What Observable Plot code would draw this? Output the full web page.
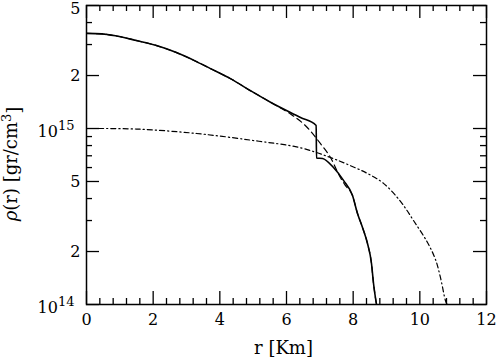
<!DOCTYPE html>
<html><head><meta charset="utf-8">
<script src="https://cdn.jsdelivr.net/npm/d3@7"></script>
<script src="https://cdn.jsdelivr.net/npm/@observablehq/plot@0.6"></script>
<style>body{margin:0;background:#fff} svg{display:block}</style>
</head><body><div id="chart"></div>
<script>
// solid curve
const solidR   = [0, 0.45, 0.9, 1.5, 2.1, 2.7, 3.3, 3.72, 4.32, 4.92, 5.52, 6.42, 6.89, 6.90, 7.08, 7.41, 7.71, 7.98, 8.13, 8.28, 8.43, 8.55, 8.61, 8.70];
const solidRho = [3.47e15, 3.45e15, 3.355e15, 3.16e15, 2.96e15, 2.70e15, 2.40e15, 2.19e15, 1.92e15, 1.64e15, 1.41e15, 1.155e15, 1.04e15, 6.8e14, 6.76e14, 6.0e14, 5.07e14, 4.16e14, 3.29e14, 2.74e14, 2.22e14, 1.71e14, 1.32e14, 1.0e14];
// dashed curve
const dashR   = [0, 0.45, 0.9, 1.5, 2.1, 2.7, 3.3, 3.72, 4.32, 4.92, 5.52, 5.82, 6.12, 6.63, 7.02, 7.32, 7.62, 7.77, 7.98, 8.13, 8.28, 8.43, 8.55, 8.61, 8.70];
const dashRho = [3.47e15, 3.45e15, 3.355e15, 3.16e15, 2.96e15, 2.70e15, 2.40e15, 2.19e15, 1.92e15, 1.64e15, 1.41e15, 1.31e15, 1.21e15, 1.01e15, 8.2e14, 6.84e14, 5.25e14, 4.74e14, 4.16e14, 3.29e14, 2.74e14, 2.22e14, 1.71e14, 1.32e14, 1.0e14];
// dash-dot curve
const dotR   = [0, 1.5, 3.3, 5.0, 6.42, 7.32, 7.9, 8.43, 8.91, 9.42, 9.81, 10.23, 10.47, 10.62, 10.77, 10.82];
const dotRho = [1.0e15, 9.93e14, 9.37e14, 8.55e14, 7.77e14, 6.84e14, 6.17e14, 5.55e14, 4.88e14, 3.85e14, 3.0e14, 2.25e14, 1.80e14, 1.42e14, 1.05e14, 1.0e14];

// ticks
const xMajor = [0, 2, 4, 6, 8, 10, 12];
const xMinor = [0.4, 0.8, 1.2, 1.6, 2.4, 2.8, 3.2, 3.6, 4.4, 4.8, 5.2, 5.6, 6.4, 6.8, 7.2, 7.6, 8.4, 8.8, 9.2, 9.6, 10.4, 10.8, 11.2, 11.6];
const yMajor = [1e14, 2e14, 5e14, 1e15, 2e15, 5e15];
const yMajorLabels = ["10^14", "2", "5", "10^15", "2", "5"];
const yMinor = [3e14, 4e14, 6e14, 7e14, 8e14, 9e14, 3e15, 4e15];

const W = 497, H = 361, mL = 86, mR = 11, mT = 5, mB = 57;
const pw = W - mL - mR, ph = H - mT - mB;
const majLen = 13, minLen = 6;

const toRows = (rs, vs) => rs.map((r, i) => ({r, rho: vs[i]}));
const solid = toRows(solidR, solidRho);
const dashed = toRows(dashR, dashRho);
const dotted = toRows(dotR, dotRho);

const tickStyle = {stroke: "black", strokeWidth: 1.3};

const chart = Plot.plot({
  width: W, height: H,
  marginLeft: mL, marginRight: mR, marginTop: mT, marginBottom: mB,
  style: {fontFamily: "DejaVu Serif", fontSize: "16px", background: "white", color: "black"},
  x: {domain: [0, 12]},
  y: {type: "log", domain: [1e14, 5e15]},
  marks: [
    Plot.line(dotted, {x: "r", y: "rho", stroke: "black", strokeWidth: 1.2, strokeDasharray: "5,3,1.2,3", curve: "catmull-rom", clip: true}),
    Plot.line(dashed, {x: "r", y: "rho", stroke: "black", strokeWidth: 1.2, strokeDasharray: "6,4", curve: "monotone-x", clip: true}),
    Plot.line(solid, {x: "r", y: "rho", stroke: "black", strokeWidth: 1.6, curve: "monotone-x", clip: true}),
    // inward ticks, bottom/top
    Plot.tickX(xMajor, {x: d => d, insetTop: ph - majLen, ...tickStyle}),
    Plot.tickX(xMinor, {x: d => d, insetTop: ph - minLen, ...tickStyle}),
    Plot.tickX(xMajor, {x: d => d, insetBottom: ph - majLen, ...tickStyle}),
    Plot.tickX(xMinor, {x: d => d, insetBottom: ph - minLen, ...tickStyle}),
    // inward ticks, left/right
    Plot.tickY(yMajor, {y: d => d, insetRight: pw - majLen, ...tickStyle}),
    Plot.tickY(yMinor, {y: d => d, insetRight: pw - minLen, ...tickStyle}),
    Plot.tickY(yMajor, {y: d => d, insetLeft: pw - majLen, ...tickStyle}),
    Plot.tickY(yMinor, {y: d => d, insetLeft: pw - minLen, ...tickStyle}),
    Plot.frame({stroke: "black", strokeWidth: 1.5}),
    Plot.axisX(xMajor, {tickSize: 0, tickPadding: 9, fontSize: 16, label: null, tickFormat: d => String(d)}),
    Plot.axisY(yMajor, {tickSize: 0, tickPadding: 6, fontSize: 16, label: null, tickFormat: d => yMajorLabels[yMajor.indexOf(d)]}),
    Plot.text(["r [Km]"], {frameAnchor: "bottom", textAnchor: "middle", lineAnchor: "middle", dy: 44, dx: -3, fontSize: 18, text: d => d}),
    Plot.text(["ρ(r) [gr/cm3]"], {frameAnchor: "left", textAnchor: "middle", lineAnchor: "middle", rotate: -90, dx: -75, dy: 9, fontSize: 18, text: d => d})
  ]
});
document.getElementById("chart").appendChild(chart);

// superscripts for tick labels 10^n, and keep the top "5" inside the picture
const NS = "http://www.w3.org/2000/svg";
chart.querySelectorAll('g[aria-label="y-axis tick label"] text').forEach((t, i, all) => {
  const m = t.textContent.match(/^10\^(\d+)$/);
  if (!m) {
    if (i === all.length - 1) t.setAttribute("dy", "3.5");
    return;
  }
  t.textContent = "";
  t.setAttribute("dy", "0.21em");
  t.setAttribute("dx", "-6");
  const a = document.createElementNS(NS, "tspan"); a.textContent = "10";
  const b = document.createElementNS(NS, "tspan"); b.textContent = m[1];
  b.setAttribute("dy", "-0.5em"); b.setAttribute("font-size", "13");
  t.appendChild(a); t.appendChild(b);
});
// y label with italic rho and superscript 3
chart.querySelectorAll('g[aria-label="text"] text').forEach(t => {
  if (t.textContent !== "ρ(r) [gr/cm3]") return;
  t.textContent = "";
  const parts = [["ρ", {"font-style": "italic"}], ["(r) [gr/cm", {}], ["3", {"dy": "-0.5em", "font-size": "13"}], ["]", {"dy": "0.5em"}]];
  for (const [s, attrs] of parts) {
    const sp = document.createElementNS(NS, "tspan"); sp.textContent = s;
    for (const k in attrs) sp.setAttribute(k, attrs[k]);
    t.appendChild(sp);
  }
});
</script>
</body></html>
